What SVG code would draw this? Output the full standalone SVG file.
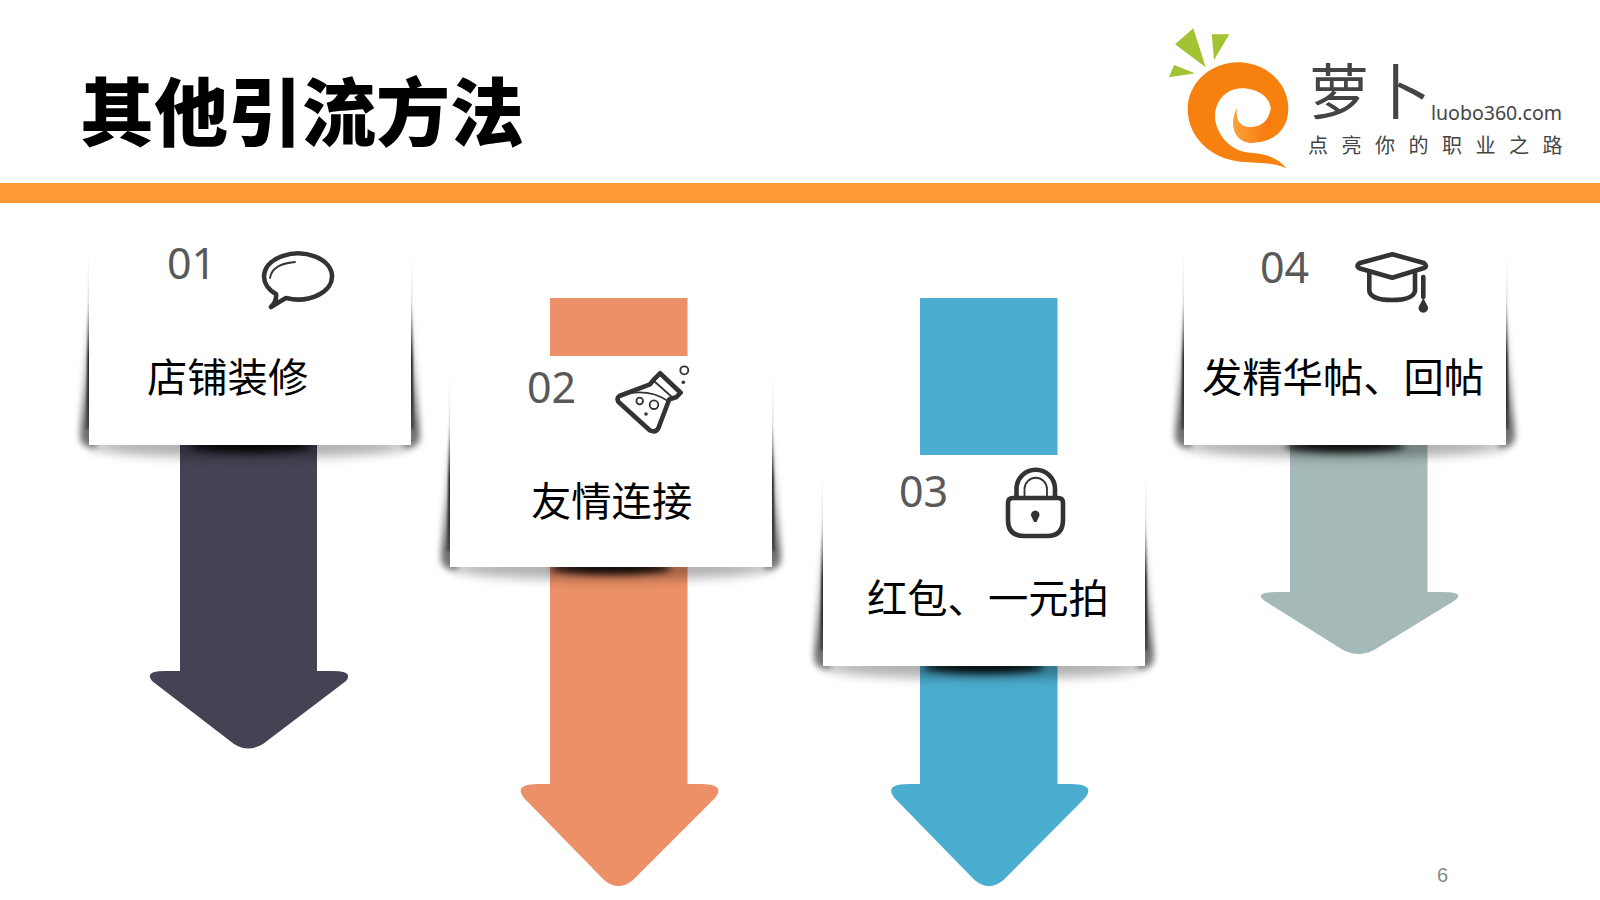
<svg xmlns="http://www.w3.org/2000/svg" width="1600" height="900" viewBox="0 0 1600 900">
<style>
.t{font-family:"Noto Sans CJK SC","Noto Sans",sans-serif}
.num{font-family:"Noto Sans","Noto Sans CJK SC",sans-serif;font-size:43px;fill:#595959}
.lab{font-family:"Noto Sans CJK SC",sans-serif;font-size:40.3px;fill:#000}
.ic{fill:none;stroke:#333;stroke-width:4.6;stroke-linejoin:round;stroke-linecap:round}
.ict{fill:none;stroke:#333;stroke-width:1.8;stroke-linecap:round}
.d{fill:#333}
.card{fill:#fff}
</style>
<defs>
<filter id="b1" x="-200%" y="-10%" width="500%" height="120%"><feGaussianBlur stdDeviation="1.2"/></filter>
<filter id="b4" x="-200%" y="-30%" width="500%" height="160%"><feGaussianBlur stdDeviation="3"/></filter>
<filter id="b5" x="-20%" y="-200%" width="140%" height="500%"><feGaussianBlur stdDeviation="5.5"/></filter>
<filter id="b3" x="-30%" y="-200%" width="160%" height="500%"><feGaussianBlur stdDeviation="3.5"/></filter>
<linearGradient id="wedge" x1="0" y1="0" x2="0" y2="1"><stop offset="0" stop-color="#000" stop-opacity="0"/><stop offset=".3" stop-color="#000" stop-opacity=".2"/><stop offset=".6" stop-color="#000" stop-opacity=".9"/><stop offset=".85" stop-color="#000" stop-opacity=".7"/><stop offset="1" stop-color="#000" stop-opacity=".3"/></linearGradient>
<linearGradient id="soft" x1="0" y1="0" x2="0" y2="1"><stop offset="0" stop-color="#000" stop-opacity="0"/><stop offset=".5" stop-color="#000" stop-opacity=".3"/><stop offset=".85" stop-color="#000" stop-opacity=".6"/><stop offset="1" stop-color="#000" stop-opacity=".5"/></linearGradient>
<linearGradient id="curl" x1="0" y1="0" x2="1" y2="0"><stop offset="0" stop-color="#F9A23A"/><stop offset="1" stop-color="#F7760C"/></linearGradient>
<g id="shadow">
<ellipse cx="161" cy="222" rx="160" ry="12" fill="#000" opacity=".3" filter="url(#b5)"/>
<ellipse cx="161" cy="222" rx="60" ry="6.5" fill="#000" opacity=".9" filter="url(#b3)"/>
<path d="M0 80L-9 212Q-9 224 4 224L8 224V80Z" fill="url(#soft)" filter="url(#b4)"/>
<path d="M322 80L331 212Q331 224 318 224L314 224V80Z" fill="url(#soft)" filter="url(#b4)"/>
<path d="M0 25L-3 205L6 205V25Z" fill="url(#wedge)" filter="url(#b1)"/>
<path d="M322 25L325 205L316 205V25Z" fill="url(#wedge)" filter="url(#b1)"/>
</g>
</defs>
<rect width="1600" height="900" fill="#fff"/>
<rect id="header-bar" x="0" y="183" width="1600" height="20" fill="#FF9933"/>
<text id="title" class="t" x="80" y="140" font-size="74" font-weight="900" fill="#000">其他引流方法</text>
<g id="logo">
<polygon points="1175,44.3 1193.3,28.3 1205.7,67.3" fill="#A2C332"/>
<polygon points="1211.7,34.3 1229.3,34.3 1214,60" fill="#A2C332"/>
<polygon points="1169,77.3 1174,65 1195,73.3" fill="#A2C332"/>
<g transform="translate(1150,10) scale(.33333)">
<path d="M410 475C370 455 320 460 270 455C180 445 115 380 113 300C112 220 180 158 265 157C350 158 415 220 415 295C415 360 370 400 300 398C260 395 235 355 260 295C255 330 270 352 300 352C340 352 362 325 362 295C360 260 320 235 275 235C225 237 195 275 195 320C197 370 240 425 300 428C350 430 385 445 410 475Z" fill="#F7810F"/>
<path d="M300 398C260 395 235 355 260 295C255 330 270 352 300 352C335 352 355 330 362 300C372 345 345 400 300 398Z" fill="url(#curl)"/>
</g>
<text class="t" x="1309" y="114" font-size="60" fill="#444">萝</text>
<text class="t" x="1371" y="114" font-size="60" fill="#444">卜</text>
<text x="1431" y="120" font-family="Noto Sans,sans-serif" font-size="20" fill="#444" textLength="131" lengthAdjust="spacingAndGlyphs">luobo360.com</text>
<text class="t" x="1308" y="153" font-size="20" letter-spacing="13.5" fill="#444">点亮你的职业之路</text>
</g>
<g id="connectors">
<path id="arrow-01" fill="#454254" d="M180 440V671H165Q144 671 152 681L234 744Q248.5 753 263 744L346 681Q354 671 332 671H317V440Z"/>
<path id="arrow-02" fill="#EC9067" d="M550 560V784H538Q513 784 524 798L604 880Q618.5 892 633 880L715 798Q726 784 701 784H687.5V560Z"/>
<path id="arrow-03" fill="#4BAED0" d="M920 660V784H908.5Q883.5 784 894.5 798L974.5 880Q989 892 1003.5 880L1085 798Q1096 784 1071 784H1057.5V660Z"/>
<path id="arrow-04" fill="#A5B9B8" d="M1290 440V592H1278Q1252 592 1265 601L1343 650Q1358.5 658 1374 650L1454 601Q1467 592 1441 592H1427.5V440Z"/>
</g>
<g id="card-01">
<use href="#shadow" x="89" y="224"/>
<rect class="card" x="89" y="224" width="322" height="221"/>
<text class="num" x="167" y="279">01</text>
<path class="ic" d="M276 294A34 23 0 1 1 286 298Q279 302 271 307Q277 301 276 294Z"/>
<path class="ict" d="M270 278Q272 264 295 262"/>
<text class="lab" x="147" y="392">店铺装修</text>
</g>
<g id="card-02">
<use href="#shadow" x="450" y="346"/>
<rect class="card" x="450" y="346" width="322" height="221"/>
<rect x="550" y="298" width="137.5" height="58" fill="#EC9067"/>
<text class="num" x="527" y="403">02</text>
<path class="ic" d="M619.3 396L650 384.3L655 378.3L660 373.3L680.7 392.7L676 397.3L669.3 399.3L658.3 428.3Q656 433 650 430.5L618.3 401.7Q616.5 398 619.3 396Z"/>
<path class="ict" d="M654 381L673 398" stroke-width="3"/>
<path class="ict" d="M630 393Q652 390 668 401" stroke-width="2"/>
<circle class="ict" cx="639.7" cy="401" r="3.3" stroke-width="2.4"/>
<circle class="ict" cx="654" cy="404.7" r="4.3" stroke-width="2.4"/>
<circle class="d" cx="646" cy="414" r="1.8"/>
<circle class="ict" cx="684.3" cy="370.3" r="4" stroke-width="2"/>
<circle class="d" cx="683.3" cy="382.3" r="1.8"/>
<text class="lab" x="531" y="516">友情连接</text>
</g>
<g id="card-03">
<use href="#shadow" x="823" y="445"/>
<rect class="card" x="823" y="445" width="322" height="221"/>
<rect x="920" y="298" width="137.5" height="157" fill="#4BAED0"/>
<text class="num" x="899" y="507">03</text>
<path class="ic" d="M1016.5 497.5V489A19.2 19.2 0 0 1 1055 489V497.5"/>
<path class="ict" d="M1024.5 497V489A11 11 0 0 1 1047 489V497" stroke-width="2"/>
<path class="ic" d="M1013 498H1058Q1063 498 1063 503V520Q1063 536 1047 536H1024Q1008 536 1008 520V503Q1008 498 1013 498Z"/>
<path class="d" d="M1035.3 510.5A4.5 4.5 0 0 1 1039.5 515.5L1036.5 522H1034L1031 515.5A4.5 4.5 0 0 1 1035.3 510.5Z"/>
<text class="lab" x="867" y="613">红包、一元拍</text>
</g>
<g id="card-04">
<use href="#shadow" x="1184" y="224"/>
<rect class="card" x="1184" y="224" width="322" height="221"/>
<text class="num" x="1260" y="283">04</text>
<path class="ic" d="M1360 263L1392.3 254.3L1424 263Q1428 266 1424 268L1392.3 277.7L1360 268.5Q1355 266 1360 263Z"/>
<path class="ic" d="M1369.3 273V291Q1371 300 1392 300Q1413 300 1415 291V273"/>
<path class="ic" d="M1423.3 277V297" stroke-width="3.6"/>
<path class="d" d="M1423.3 298L1428 307A4.8 4.8 0 1 1 1418.6 307Z"/>
<text class="lab" x="1202" y="392">发精华帖、回帖</text>
</g>
<text id="page-number" x="1437" y="882" font-family="Liberation Sans,sans-serif" font-size="20" fill="#8a8a8a">6</text>
</svg>
